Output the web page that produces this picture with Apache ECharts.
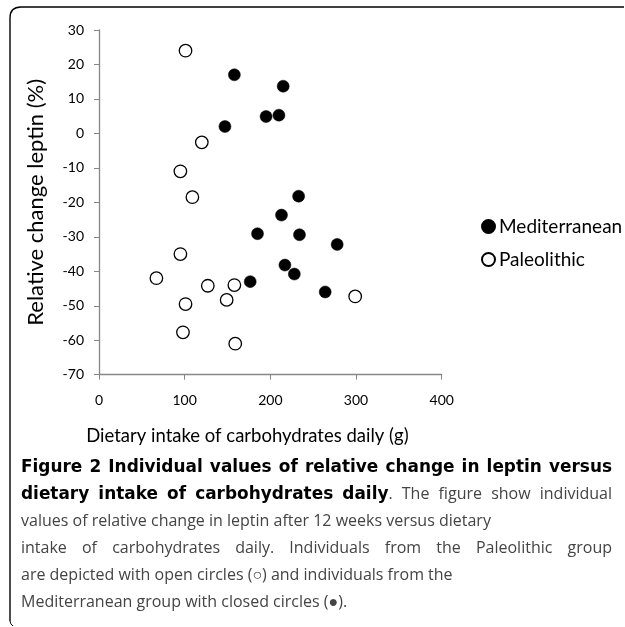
<!DOCTYPE html>
<html>
<head>
<meta charset="utf-8">
<script src="https://cdn.jsdelivr.net/npm/echarts@6/dist/echarts.min.js"></script>
<style>
html,body{margin:0;padding:0;background:#fff;}
#chart{width:625px;height:627px;}
</style>
</head>
<body>
<div id="chart"></div>
<script>
// Data
var seriesNames = ['Mediterranean', 'Paleolithic'];
var mediterraneanX = [158, 215, 195, 210, 147, 233, 213, 185, 234, 278, 217, 228, 176.5, 264];
var mediterraneanY = [17, 13.7, 4.9, 5.3, 2, -18.2, -23.7, -29.1, -29.4, -32.2, -38.2, -40.8, -43, -46];
var paleolithicX = [101, 120, 95, 109, 95, 67, 127, 158, 149, 101, 98, 159, 299];
var paleolithicY = [24, -2.6, -11, -18.5, -35, -42, -44.2, -44, -48.3, -49.5, -57.7, -61, -47.3];
var xAxisTitle = 'Dietary intake of carbohydrates daily (g)';
var yAxisTitle = 'Relative change leptin (%)';
// ** toggles bold
var captionLines = [
  '**Figure 2 Individual values of relative change in leptin versus',
  'dietary intake of carbohydrates daily**. The figure show individual',
  'values of relative change in leptin after 12 weeks versus dietary',
  'intake of carbohydrates daily. Individuals from the Paleolithic group',
  'are depicted with open circles (\u25CB) and individuals from the',
  'Mediterranean group with closed circles (\u25CF).'
];
var justifiedLines = [true, true, false, true, false, false];

function pairs(xs, ys){ return xs.map(function(x,i){ return [x, ys[i]]; }); }

var FONT = 'Lato';
var CAPFONT = 'Open Sans';
var BOLDFONT = 'DejaVu Sans';
var CAPSIZE = 16;
var BOLDSIZE = 16;
var CAP_LEFT = 21, CAP_RIGHT = 612, CAP_TOP = 468, CAP_LH = 26.8;

var measureCtx = document.createElement('canvas').getContext('2d');
function fontStr(bold){ return bold ? ('bold ' + BOLDSIZE + 'px "' + BOLDFONT + '"') : (CAPSIZE + 'px "' + CAPFONT + '"'); }
function measure(str, bold){ measureCtx.font = fontStr(bold); return measureCtx.measureText(str).width; }

// fit the bold size so the first (all-bold) line nearly fills the measure before justifying
(function(){
  var first = captionLines[0].replace(/\*\*/g, '');
  var w = measure(first, true);
  BOLDSIZE = Math.min(17, BOLDSIZE * 580 / w);
})();

var capGraphics = [];
(function(){
  var bold = false;
  captionLines.forEach(function(line, li){
    var words = [];
    line.split(' ').forEach(function(w){
      var runs = [];
      w.split('**').forEach(function(p, pi){
        if (pi > 0) bold = !bold;
        if (p.length) runs.push({t: p, b: bold});
      });
      words.push(runs);
    });
    var spaceW = measure(' ', false);
    var widths = words.map(function(runs){ return runs.reduce(function(s, r){ return s + measure(r.t, r.b); }, 0); });
    var total = widths.reduce(function(a, b){ return a + b; }, 0);
    var gap = justifiedLines[li] ? (CAP_RIGHT - CAP_LEFT - total) / (words.length - 1) : spaceW;
    var x = CAP_LEFT;
    var y = CAP_TOP + li * CAP_LH;
    words.forEach(function(runs){
      runs.forEach(function(r){
        capGraphics.push({
          type: 'text', silent: true,
          style: {
            x: x, y: y, text: r.t, align: 'left', verticalAlign: 'middle',
            fontFamily: r.b ? BOLDFONT : CAPFONT, fontSize: r.b ? BOLDSIZE : CAPSIZE,
            fontWeight: r.b ? 'bold' : 'normal',
            fill: r.b ? '#000' : '#444'
          }
        });
        x += measure(r.t, r.b);
      });
      x += gap;
    });
  });
})();

var chart = echarts.init(document.getElementById('chart'), null, {renderer: 'canvas'});
chart.setOption({
  animation: false,
  backgroundColor: '#fff',
  grid: {left: 99, top: 30, right: 183.3, bottom: 252.3},
  legend: {
    orient: 'vertical', left: 476, top: 212, itemGap: 14,
    itemWidth: 13, itemHeight: 13, icon: 'circle',
    textStyle: {fontFamily: FONT, fontSize: 19, color: '#000', padding: [0,0,0,-1]},
    data: seriesNames
  },
  xAxis: {
    type: 'value', min: 0, max: 400, interval: 100,
    name: xAxisTitle, nameLocation: 'middle', nameGap: 52,
    nameTextStyle: {fontFamily: FONT, fontSize: 18.5, color: '#000', padding: [0, 46, 0, 0]},
    axisLine: {show: true, onZero: false, lineStyle: {color: '#868686', width: 1.3}},
    axisTick: {show: true, inside: false, length: 5, lineStyle: {color: '#868686'}},
    axisLabel: {fontFamily: FONT, fontSize: 14, color: '#000', margin: 19},
    splitLine: {show: false}
  },
  yAxis: {
    type: 'value', min: -70, max: 30, interval: 10,
    name: yAxisTitle, nameLocation: 'middle', nameGap: 52, nameRotate: 90,
    nameTextStyle: {fontFamily: FONT, fontSize: 22, color: '#000'},
    axisLine: {show: true, onZero: false, lineStyle: {color: '#868686', width: 1.3}},
    axisTick: {show: true, inside: false, length: 5, lineStyle: {color: '#868686'}},
    axisLabel: {fontFamily: FONT, fontSize: 14, color: '#000', margin: 15},
    splitLine: {show: false}
  },
  series: [
    {
      name: seriesNames[0], type: 'scatter', symbol: 'circle', symbolSize: 12,
      itemStyle: {color: '#000', borderColor: '#000', borderWidth: 0.5, opacity: 1},
      data: pairs(mediterraneanX, mediterraneanY)
    },
    {
      name: seriesNames[1], type: 'scatter', symbol: 'circle', symbolSize: 12.5,
      itemStyle: {color: '#fff', borderColor: '#000', borderWidth: 1.3, opacity: 1},
      data: pairs(paleolithicX, paleolithicY)
    }
  ],
  graphic: [
    {
      type: 'polyline', silent: true,
      shape: {points: [[10,621],[10,18]]},
      style: {fill: null, stroke: '#000', lineWidth: 1.4}
    },
    {
      type: 'bezierCurve', silent: true,
      shape: {x1: 10, y1: 18, cpx1: 10, cpy1: 7, x2: 21, y2: 7},
      style: {fill: null, stroke: '#000', lineWidth: 1.4}
    },
    {
      type: 'polyline', silent: true,
      shape: {points: [[21,7],[624,7]]},
      style: {fill: null, stroke: '#000', lineWidth: 1.4}
    },
    {
      type: 'bezierCurve', silent: true,
      shape: {x1: 10, y1: 621, cpx1: 10, cpy1: 624, x2: 13, y2: 626},
      style: {fill: null, stroke: '#000', lineWidth: 1}
    }
  ].concat(capGraphics)
});
</script>
</body>
</html>
